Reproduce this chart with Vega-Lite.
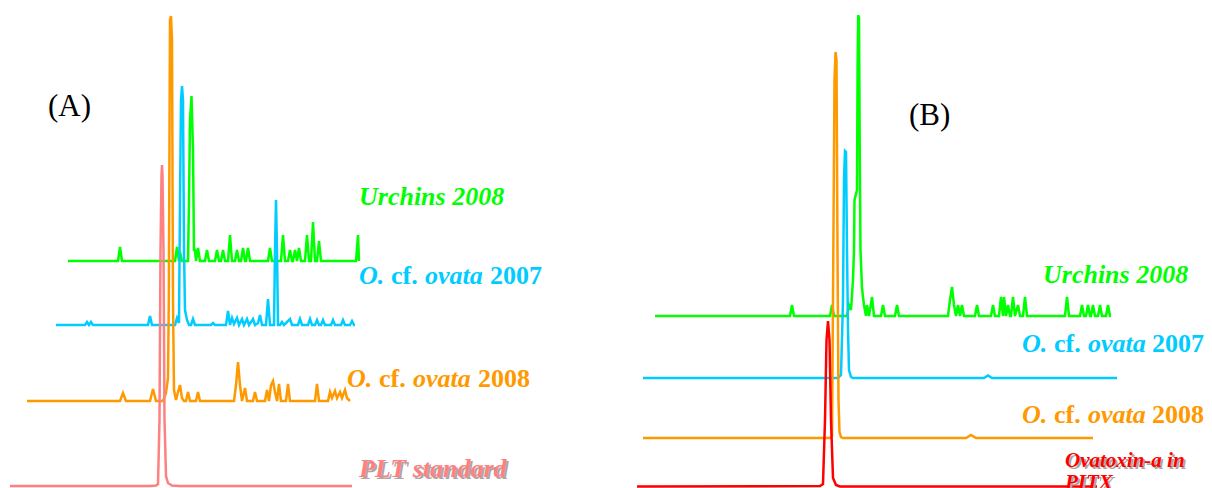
{
  "$schema": "https://vega.github.io/schema/vega-lite/v6.json",
  "padding": 0,
  "spacing": 0,
  "background": "white",
  "config": {"view": {"stroke": null}, "concat": {"spacing": 0}},
  "datasets": {
    "traceA": [
      {"sample":"Urchins 2008","rt":68,"sig":227},{"sample":"Urchins 2008","rt":118,"sig":227},{"sample":"Urchins 2008","rt":120,"sig":241},{"sample":"Urchins 2008","rt":122,"sig":227},{"sample":"Urchins 2008","rt":175,"sig":227},{"sample":"Urchins 2008","rt":177,"sig":241},{"sample":"Urchins 2008","rt":179,"sig":227},{"sample":"Urchins 2008","rt":180,"sig":236},{"sample":"Urchins 2008","rt":182,"sig":227},{"sample":"Urchins 2008","rt":188,"sig":227},{"sample":"Urchins 2008","rt":189,"sig":288},{"sample":"Urchins 2008","rt":190,"sig":368},{"sample":"Urchins 2008","rt":191.5,"sig":392},{"sample":"Urchins 2008","rt":193,"sig":338},{"sample":"Urchins 2008","rt":194,"sig":238},{"sample":"Urchins 2008","rt":195,"sig":238},{"sample":"Urchins 2008","rt":196,"sig":227},{"sample":"Urchins 2008","rt":198,"sig":240},{"sample":"Urchins 2008","rt":200,"sig":227},{"sample":"Urchins 2008","rt":205,"sig":227},{"sample":"Urchins 2008","rt":207,"sig":238},{"sample":"Urchins 2008","rt":209,"sig":227},{"sample":"Urchins 2008","rt":215,"sig":227},{"sample":"Urchins 2008","rt":217,"sig":238},{"sample":"Urchins 2008","rt":219,"sig":227},{"sample":"Urchins 2008","rt":221,"sig":227},{"sample":"Urchins 2008","rt":223,"sig":238},{"sample":"Urchins 2008","rt":225,"sig":227},{"sample":"Urchins 2008","rt":228,"sig":227},{"sample":"Urchins 2008","rt":230,"sig":253},{"sample":"Urchins 2008","rt":232,"sig":227},{"sample":"Urchins 2008","rt":235,"sig":227},{"sample":"Urchins 2008","rt":237,"sig":238},{"sample":"Urchins 2008","rt":239,"sig":227},{"sample":"Urchins 2008","rt":241,"sig":227},{"sample":"Urchins 2008","rt":243,"sig":240},{"sample":"Urchins 2008","rt":245,"sig":227},{"sample":"Urchins 2008","rt":246,"sig":227},{"sample":"Urchins 2008","rt":248,"sig":240},{"sample":"Urchins 2008","rt":250,"sig":227},{"sample":"Urchins 2008","rt":268,"sig":227},{"sample":"Urchins 2008","rt":270,"sig":240},{"sample":"Urchins 2008","rt":272,"sig":227},{"sample":"Urchins 2008","rt":281,"sig":227},{"sample":"Urchins 2008","rt":283,"sig":253},{"sample":"Urchins 2008","rt":285,"sig":227},{"sample":"Urchins 2008","rt":288,"sig":227},{"sample":"Urchins 2008","rt":290,"sig":238},{"sample":"Urchins 2008","rt":292,"sig":227},{"sample":"Urchins 2008","rt":293,"sig":227},{"sample":"Urchins 2008","rt":295,"sig":238},{"sample":"Urchins 2008","rt":297,"sig":227},{"sample":"Urchins 2008","rt":299,"sig":240},{"sample":"Urchins 2008","rt":301,"sig":227},{"sample":"Urchins 2008","rt":305,"sig":227},{"sample":"Urchins 2008","rt":307,"sig":253},{"sample":"Urchins 2008","rt":309,"sig":227},{"sample":"Urchins 2008","rt":311,"sig":227},{"sample":"Urchins 2008","rt":313,"sig":266},{"sample":"Urchins 2008","rt":315,"sig":227},{"sample":"Urchins 2008","rt":317,"sig":227},{"sample":"Urchins 2008","rt":319,"sig":247},{"sample":"Urchins 2008","rt":321,"sig":227},{"sample":"Urchins 2008","rt":356,"sig":227},{"sample":"Urchins 2008","rt":358,"sig":253},{"sample":"Urchins 2008","rt":359,"sig":227},

      {"sample":"O. cf. ovata 2007","rt":56,"sig":163},{"sample":"O. cf. ovata 2007","rt":85,"sig":163},{"sample":"O. cf. ovata 2007","rt":87,"sig":166},{"sample":"O. cf. ovata 2007","rt":89,"sig":163},{"sample":"O. cf. ovata 2007","rt":91,"sig":166},{"sample":"O. cf. ovata 2007","rt":93,"sig":163},{"sample":"O. cf. ovata 2007","rt":148,"sig":163},{"sample":"O. cf. ovata 2007","rt":150,"sig":172},{"sample":"O. cf. ovata 2007","rt":152,"sig":163},{"sample":"O. cf. ovata 2007","rt":175,"sig":163},{"sample":"O. cf. ovata 2007","rt":177,"sig":170},{"sample":"O. cf. ovata 2007","rt":179,"sig":165},{"sample":"O. cf. ovata 2007","rt":180,"sig":288},{"sample":"O. cf. ovata 2007","rt":181,"sig":388},{"sample":"O. cf. ovata 2007","rt":182,"sig":402},{"sample":"O. cf. ovata 2007","rt":183,"sig":388},{"sample":"O. cf. ovata 2007","rt":184,"sig":238},{"sample":"O. cf. ovata 2007","rt":185,"sig":178},{"sample":"O. cf. ovata 2007","rt":187,"sig":168},{"sample":"O. cf. ovata 2007","rt":189,"sig":163},{"sample":"O. cf. ovata 2007","rt":191,"sig":163},{"sample":"O. cf. ovata 2007","rt":193,"sig":169},{"sample":"O. cf. ovata 2007","rt":195,"sig":163},{"sample":"O. cf. ovata 2007","rt":211,"sig":163},{"sample":"O. cf. ovata 2007","rt":213,"sig":165},{"sample":"O. cf. ovata 2007","rt":215,"sig":163},{"sample":"O. cf. ovata 2007","rt":226,"sig":163},{"sample":"O. cf. ovata 2007","rt":228,"sig":177},{"sample":"O. cf. ovata 2007","rt":230,"sig":163},{"sample":"O. cf. ovata 2007","rt":232,"sig":170},{"sample":"O. cf. ovata 2007","rt":234,"sig":164},{"sample":"O. cf. ovata 2007","rt":237,"sig":170},{"sample":"O. cf. ovata 2007","rt":239,"sig":163},{"sample":"O. cf. ovata 2007","rt":242,"sig":169},{"sample":"O. cf. ovata 2007","rt":244,"sig":163},{"sample":"O. cf. ovata 2007","rt":247,"sig":169},{"sample":"O. cf. ovata 2007","rt":249,"sig":163},{"sample":"O. cf. ovata 2007","rt":253,"sig":169},{"sample":"O. cf. ovata 2007","rt":255,"sig":163},{"sample":"O. cf. ovata 2007","rt":258,"sig":165},{"sample":"O. cf. ovata 2007","rt":260,"sig":173},{"sample":"O. cf. ovata 2007","rt":262,"sig":163},{"sample":"O. cf. ovata 2007","rt":266,"sig":163},{"sample":"O. cf. ovata 2007","rt":268,"sig":189},{"sample":"O. cf. ovata 2007","rt":270,"sig":163},{"sample":"O. cf. ovata 2007","rt":274,"sig":163},{"sample":"O. cf. ovata 2007","rt":275,"sig":238},{"sample":"O. cf. ovata 2007","rt":276,"sig":288},{"sample":"O. cf. ovata 2007","rt":277,"sig":238},{"sample":"O. cf. ovata 2007","rt":278,"sig":163},{"sample":"O. cf. ovata 2007","rt":280,"sig":163},{"sample":"O. cf. ovata 2007","rt":282,"sig":166},{"sample":"O. cf. ovata 2007","rt":284,"sig":163},{"sample":"O. cf. ovata 2007","rt":290,"sig":169},{"sample":"O. cf. ovata 2007","rt":292,"sig":163},{"sample":"O. cf. ovata 2007","rt":298,"sig":163},{"sample":"O. cf. ovata 2007","rt":300,"sig":169},{"sample":"O. cf. ovata 2007","rt":302,"sig":163},{"sample":"O. cf. ovata 2007","rt":308,"sig":163},{"sample":"O. cf. ovata 2007","rt":310,"sig":169},{"sample":"O. cf. ovata 2007","rt":312,"sig":163},{"sample":"O. cf. ovata 2007","rt":315,"sig":163},{"sample":"O. cf. ovata 2007","rt":317,"sig":168},{"sample":"O. cf. ovata 2007","rt":319,"sig":163},{"sample":"O. cf. ovata 2007","rt":321,"sig":163},{"sample":"O. cf. ovata 2007","rt":323,"sig":168},{"sample":"O. cf. ovata 2007","rt":325,"sig":163},{"sample":"O. cf. ovata 2007","rt":331,"sig":163},{"sample":"O. cf. ovata 2007","rt":333,"sig":168},{"sample":"O. cf. ovata 2007","rt":335,"sig":163},{"sample":"O. cf. ovata 2007","rt":341,"sig":163},{"sample":"O. cf. ovata 2007","rt":343,"sig":168},{"sample":"O. cf. ovata 2007","rt":345,"sig":163},{"sample":"O. cf. ovata 2007","rt":350,"sig":163},{"sample":"O. cf. ovata 2007","rt":352,"sig":167},{"sample":"O. cf. ovata 2007","rt":354,"sig":163},{"sample":"O. cf. ovata 2007","rt":355,"sig":163},

      {"sample":"O. cf. ovata 2008","rt":27,"sig":87},{"sample":"O. cf. ovata 2008","rt":120,"sig":87},{"sample":"O. cf. ovata 2008","rt":123,"sig":95},{"sample":"O. cf. ovata 2008","rt":126,"sig":87},{"sample":"O. cf. ovata 2008","rt":150,"sig":87},{"sample":"O. cf. ovata 2008","rt":153,"sig":99},{"sample":"O. cf. ovata 2008","rt":156,"sig":87},{"sample":"O. cf. ovata 2008","rt":163,"sig":87},{"sample":"O. cf. ovata 2008","rt":166,"sig":95},{"sample":"O. cf. ovata 2008","rt":168,"sig":110},{"sample":"O. cf. ovata 2008","rt":168.8,"sig":188},{"sample":"O. cf. ovata 2008","rt":170,"sig":468},{"sample":"O. cf. ovata 2008","rt":171,"sig":472},{"sample":"O. cf. ovata 2008","rt":172,"sig":448},{"sample":"O. cf. ovata 2008","rt":173,"sig":188},{"sample":"O. cf. ovata 2008","rt":174,"sig":98},{"sample":"O. cf. ovata 2008","rt":176,"sig":88},{"sample":"O. cf. ovata 2008","rt":178,"sig":96},{"sample":"O. cf. ovata 2008","rt":180,"sig":103},{"sample":"O. cf. ovata 2008","rt":182,"sig":90},{"sample":"O. cf. ovata 2008","rt":184,"sig":87},{"sample":"O. cf. ovata 2008","rt":186,"sig":87},{"sample":"O. cf. ovata 2008","rt":188,"sig":96},{"sample":"O. cf. ovata 2008","rt":190,"sig":87},{"sample":"O. cf. ovata 2008","rt":196,"sig":87},{"sample":"O. cf. ovata 2008","rt":198,"sig":96},{"sample":"O. cf. ovata 2008","rt":200,"sig":87},{"sample":"O. cf. ovata 2008","rt":234,"sig":87},{"sample":"O. cf. ovata 2008","rt":236,"sig":103},{"sample":"O. cf. ovata 2008","rt":238,"sig":126},{"sample":"O. cf. ovata 2008","rt":240,"sig":103},{"sample":"O. cf. ovata 2008","rt":242,"sig":87},{"sample":"O. cf. ovata 2008","rt":245,"sig":100},{"sample":"O. cf. ovata 2008","rt":247,"sig":87},{"sample":"O. cf. ovata 2008","rt":253,"sig":87},{"sample":"O. cf. ovata 2008","rt":255,"sig":96},{"sample":"O. cf. ovata 2008","rt":257,"sig":87},{"sample":"O. cf. ovata 2008","rt":265,"sig":87},{"sample":"O. cf. ovata 2008","rt":267,"sig":98},{"sample":"O. cf. ovata 2008","rt":269,"sig":87},{"sample":"O. cf. ovata 2008","rt":271,"sig":103},{"sample":"O. cf. ovata 2008","rt":273,"sig":107},{"sample":"O. cf. ovata 2008","rt":275,"sig":96},{"sample":"O. cf. ovata 2008","rt":277,"sig":87},{"sample":"O. cf. ovata 2008","rt":279,"sig":104},{"sample":"O. cf. ovata 2008","rt":281,"sig":87},{"sample":"O. cf. ovata 2008","rt":286,"sig":87},{"sample":"O. cf. ovata 2008","rt":288,"sig":104},{"sample":"O. cf. ovata 2008","rt":290,"sig":87},{"sample":"O. cf. ovata 2008","rt":315,"sig":87},{"sample":"O. cf. ovata 2008","rt":317,"sig":104},{"sample":"O. cf. ovata 2008","rt":319,"sig":87},{"sample":"O. cf. ovata 2008","rt":328,"sig":87},{"sample":"O. cf. ovata 2008","rt":330,"sig":96},{"sample":"O. cf. ovata 2008","rt":332,"sig":90},{"sample":"O. cf. ovata 2008","rt":335,"sig":97},{"sample":"O. cf. ovata 2008","rt":337,"sig":90},{"sample":"O. cf. ovata 2008","rt":340,"sig":96},{"sample":"O. cf. ovata 2008","rt":342,"sig":90},{"sample":"O. cf. ovata 2008","rt":345,"sig":98},{"sample":"O. cf. ovata 2008","rt":347,"sig":90},{"sample":"O. cf. ovata 2008","rt":350,"sig":87},

      {"sample":"PLT standard","rt":10,"sig":2},{"sample":"PLT standard","rt":150,"sig":2},{"sample":"PLT standard","rt":156,"sig":2.5},{"sample":"PLT standard","rt":158,"sig":4},{"sample":"PLT standard","rt":159.5,"sig":68},{"sample":"PLT standard","rt":160.5,"sig":238},{"sample":"PLT standard","rt":161.5,"sig":313},{"sample":"PLT standard","rt":162,"sig":323},{"sample":"PLT standard","rt":162.5,"sig":313},{"sample":"PLT standard","rt":163.5,"sig":238},{"sample":"PLT standard","rt":164.5,"sig":68},{"sample":"PLT standard","rt":166,"sig":12},{"sample":"PLT standard","rt":168,"sig":5},{"sample":"PLT standard","rt":172,"sig":2.5},{"sample":"PLT standard","rt":180,"sig":2},{"sample":"PLT standard","rt":352,"sig":2}
    ],
    "traceB": [
      {"sample":"Urchins 2008","rt":49,"sig":172},{"sample":"Urchins 2008","rt":184,"sig":172},{"sample":"Urchins 2008","rt":186,"sig":183},{"sample":"Urchins 2008","rt":188,"sig":172},{"sample":"Urchins 2008","rt":224,"sig":172},{"sample":"Urchins 2008","rt":226,"sig":183},{"sample":"Urchins 2008","rt":228,"sig":172},{"sample":"Urchins 2008","rt":241,"sig":172},{"sample":"Urchins 2008","rt":243,"sig":183},{"sample":"Urchins 2008","rt":245,"sig":178},{"sample":"Urchins 2008","rt":247,"sig":208},{"sample":"Urchins 2008","rt":248,"sig":238},{"sample":"Urchins 2008","rt":248.5,"sig":288},{"sample":"Urchins 2008","rt":251,"sig":298},{"sample":"Urchins 2008","rt":251.6,"sig":420},{"sample":"Urchins 2008","rt":252.2,"sig":473},{"sample":"Urchins 2008","rt":253,"sig":470},{"sample":"Urchins 2008","rt":253.8,"sig":330},{"sample":"Urchins 2008","rt":254.5,"sig":238},{"sample":"Urchins 2008","rt":256,"sig":200},{"sample":"Urchins 2008","rt":257,"sig":191},{"sample":"Urchins 2008","rt":258,"sig":183},{"sample":"Urchins 2008","rt":260,"sig":172},{"sample":"Urchins 2008","rt":261,"sig":183},{"sample":"Urchins 2008","rt":263,"sig":172},{"sample":"Urchins 2008","rt":264,"sig":178},{"sample":"Urchins 2008","rt":266,"sig":191},{"sample":"Urchins 2008","rt":268,"sig":172},{"sample":"Urchins 2008","rt":275,"sig":172},{"sample":"Urchins 2008","rt":277,"sig":183},{"sample":"Urchins 2008","rt":279,"sig":172},{"sample":"Urchins 2008","rt":289,"sig":172},{"sample":"Urchins 2008","rt":291,"sig":183},{"sample":"Urchins 2008","rt":293,"sig":172},{"sample":"Urchins 2008","rt":342,"sig":172},{"sample":"Urchins 2008","rt":344,"sig":188},{"sample":"Urchins 2008","rt":346,"sig":201},{"sample":"Urchins 2008","rt":348,"sig":183},{"sample":"Urchins 2008","rt":350,"sig":172},{"sample":"Urchins 2008","rt":352,"sig":183},{"sample":"Urchins 2008","rt":354,"sig":172},{"sample":"Urchins 2008","rt":356,"sig":183},{"sample":"Urchins 2008","rt":358,"sig":172},{"sample":"Urchins 2008","rt":369,"sig":172},{"sample":"Urchins 2008","rt":371,"sig":183},{"sample":"Urchins 2008","rt":373,"sig":172},{"sample":"Urchins 2008","rt":385,"sig":172},{"sample":"Urchins 2008","rt":387,"sig":183},{"sample":"Urchins 2008","rt":389,"sig":172},{"sample":"Urchins 2008","rt":393,"sig":172},{"sample":"Urchins 2008","rt":395,"sig":191},{"sample":"Urchins 2008","rt":397,"sig":172},{"sample":"Urchins 2008","rt":398,"sig":191},{"sample":"Urchins 2008","rt":400,"sig":172},{"sample":"Urchins 2008","rt":402,"sig":183},{"sample":"Urchins 2008","rt":404,"sig":172},{"sample":"Urchins 2008","rt":405,"sig":172},{"sample":"Urchins 2008","rt":407,"sig":191},{"sample":"Urchins 2008","rt":409,"sig":172},{"sample":"Urchins 2008","rt":412,"sig":183},{"sample":"Urchins 2008","rt":414,"sig":172},{"sample":"Urchins 2008","rt":417,"sig":172},{"sample":"Urchins 2008","rt":419,"sig":191},{"sample":"Urchins 2008","rt":421,"sig":172},{"sample":"Urchins 2008","rt":459,"sig":172},{"sample":"Urchins 2008","rt":461,"sig":191},{"sample":"Urchins 2008","rt":463,"sig":172},{"sample":"Urchins 2008","rt":474,"sig":172},{"sample":"Urchins 2008","rt":476,"sig":183},{"sample":"Urchins 2008","rt":478,"sig":172},{"sample":"Urchins 2008","rt":480,"sig":172},{"sample":"Urchins 2008","rt":482,"sig":183},{"sample":"Urchins 2008","rt":484,"sig":172},{"sample":"Urchins 2008","rt":485,"sig":172},{"sample":"Urchins 2008","rt":487,"sig":183},{"sample":"Urchins 2008","rt":489,"sig":172},{"sample":"Urchins 2008","rt":492,"sig":172},{"sample":"Urchins 2008","rt":494,"sig":183},{"sample":"Urchins 2008","rt":496,"sig":172},{"sample":"Urchins 2008","rt":500,"sig":172},{"sample":"Urchins 2008","rt":502,"sig":183},{"sample":"Urchins 2008","rt":504,"sig":172},{"sample":"Urchins 2008","rt":505,"sig":172},

      {"sample":"O. cf. ovata 2007","rt":37,"sig":110},{"sample":"O. cf. ovata 2007","rt":232,"sig":110},{"sample":"O. cf. ovata 2007","rt":235,"sig":113},{"sample":"O. cf. ovata 2007","rt":237,"sig":188},{"sample":"O. cf. ovata 2007","rt":238,"sig":308},{"sample":"O. cf. ovata 2007","rt":239,"sig":337},{"sample":"O. cf. ovata 2007","rt":240,"sig":336},{"sample":"O. cf. ovata 2007","rt":241,"sig":238},{"sample":"O. cf. ovata 2007","rt":242,"sig":158},{"sample":"O. cf. ovata 2007","rt":243,"sig":118},{"sample":"O. cf. ovata 2007","rt":245,"sig":111},{"sample":"O. cf. ovata 2007","rt":247,"sig":110},{"sample":"O. cf. ovata 2007","rt":378,"sig":110},{"sample":"O. cf. ovata 2007","rt":382,"sig":112.5},{"sample":"O. cf. ovata 2007","rt":386,"sig":110},{"sample":"O. cf. ovata 2007","rt":511,"sig":110},

      {"sample":"O. cf. ovata 2008","rt":37,"sig":50},{"sample":"O. cf. ovata 2008","rt":224,"sig":50},{"sample":"O. cf. ovata 2008","rt":226,"sig":52},{"sample":"O. cf. ovata 2008","rt":227,"sig":188},{"sample":"O. cf. ovata 2008","rt":228.5,"sig":408},{"sample":"O. cf. ovata 2008","rt":229.5,"sig":436},{"sample":"O. cf. ovata 2008","rt":230.5,"sig":428},{"sample":"O. cf. ovata 2008","rt":231.5,"sig":238},{"sample":"O. cf. ovata 2008","rt":232.5,"sig":88},{"sample":"O. cf. ovata 2008","rt":233.5,"sig":56},{"sample":"O. cf. ovata 2008","rt":235,"sig":51},{"sample":"O. cf. ovata 2008","rt":237,"sig":50},{"sample":"O. cf. ovata 2008","rt":360,"sig":50},{"sample":"O. cf. ovata 2008","rt":365,"sig":53},{"sample":"O. cf. ovata 2008","rt":370,"sig":50},{"sample":"O. cf. ovata 2008","rt":487,"sig":50},

      {"sample":"Ovatoxin-a in PITX","rt":31,"sig":1.5},{"sample":"Ovatoxin-a in PITX","rt":214,"sig":2},{"sample":"Ovatoxin-a in PITX","rt":217,"sig":4},{"sample":"Ovatoxin-a in PITX","rt":219,"sig":68},{"sample":"Ovatoxin-a in PITX","rt":220.5,"sig":148},{"sample":"Ovatoxin-a in PITX","rt":222,"sig":167},{"sample":"Ovatoxin-a in PITX","rt":223.5,"sig":148},{"sample":"Ovatoxin-a in PITX","rt":225,"sig":68},{"sample":"Ovatoxin-a in PITX","rt":227,"sig":10},{"sample":"Ovatoxin-a in PITX","rt":230,"sig":3},{"sample":"Ovatoxin-a in PITX","rt":234,"sig":1.5},{"sample":"Ovatoxin-a in PITX","rt":491,"sig":1.5}
    ],
    "italA": [
      {"sample":"Urchins 2008","txt":"Urchins 2008","rt":359,"sig":283},
      {"sample":"O. cf. ovata 2007","txt":"O.","rt":359,"sig":204},
      {"sample":"O. cf. ovata 2007","txt":"ovata","rt":425,"sig":204},
      {"sample":"O. cf. ovata 2008","txt":"O.","rt":347,"sig":101},
      {"sample":"O. cf. ovata 2008","txt":"ovata","rt":413,"sig":101},
      {"sample":"PLT standard","txt":"PLT standard","rt":359,"sig":11}
    ],
    "boldA": [
      {"sample":"O. cf. ovata 2007","txt":"cf.","rt":391,"sig":204},
      {"sample":"O. cf. ovata 2007","txt":"2007","rt":490,"sig":204},
      {"sample":"O. cf. ovata 2008","txt":"cf.","rt":379,"sig":101},
      {"sample":"O. cf. ovata 2008","txt":"2008","rt":478,"sig":101}
    ],
    "shadowA": [
      {"txt":"PLT standard","rt":359,"sig":11}
    ],
    "tagA": [{"txt":"(A)","rt":48,"sig":372}],
    "italB": [
      {"sample":"Urchins 2008","txt":"Urchins 2008","rt":437,"sig":205},
      {"sample":"O. cf. ovata 2007","txt":"O.","rt":416,"sig":136},
      {"sample":"O. cf. ovata 2007","txt":"ovata","rt":482,"sig":136},
      {"sample":"O. cf. ovata 2008","txt":"O.","rt":416,"sig":65},
      {"sample":"O. cf. ovata 2008","txt":"ovata","rt":482,"sig":65}
    ],
    "boldB": [
      {"sample":"O. cf. ovata 2007","txt":"cf.","rt":448,"sig":136},
      {"sample":"O. cf. ovata 2007","txt":"2007","rt":546,"sig":136},
      {"sample":"O. cf. ovata 2008","txt":"cf.","rt":448,"sig":65},
      {"sample":"O. cf. ovata 2008","txt":"2008","rt":546,"sig":65}
    ],
    "smallB": [
      {"sample":"Ovatoxin-a in PITX","txt":"Ovatoxin-a in","rt":459,"sig":21},
      {"sample":"Ovatoxin-a in PITX","txt":"PITX","rt":459,"sig":-1}
    ],
    "tagB": [{"txt":"(B)","rt":303,"sig":363}]
  },
  "hconcat": [
    {
      "width": 606,
      "height": 488,
      "layer": [
        {
          "data": {"name": "traceA"},
          "mark": {"type": "line", "strokeWidth": 2.5, "clip": true},
          "encoding": {
            "x": {"field": "rt", "type": "quantitative", "scale": {"domain": [0, 606], "nice": false, "zero": false}, "axis": null},
            "y": {"field": "sig", "type": "quantitative", "scale": {"domain": [0, 488], "nice": false, "zero": false}, "axis": null},
            "color": {"field": "sample", "type": "nominal", "legend": null,
              "scale": {"domain": ["Urchins 2008", "O. cf. ovata 2007", "O. cf. ovata 2008", "PLT standard", "Ovatoxin-a in PITX"],
                        "range": ["#00ff00", "#00ccff", "#ff9900", "#ff8080", "#ff0000"]}}
          }
        },
        {
          "data": {"name": "shadowA"},
          "mark": {"type": "text", "font": "Liberation Serif", "fontSize": 26, "fontWeight": "bold", "fontStyle": "italic", "align": "left", "baseline": "alphabetic", "dx": 2, "dy": 2, "color": "#a8a8a8", "clip": true},
          "encoding": {"x": {"field": "rt", "type": "quantitative"}, "y": {"field": "sig", "type": "quantitative"}, "text": {"field": "txt"}}
        },
        {
          "data": {"name": "italA"},
          "mark": {"type": "text", "font": "Liberation Serif", "fontSize": 26, "fontWeight": "bold", "fontStyle": "italic", "align": "left", "baseline": "alphabetic", "clip": true},
          "encoding": {"x": {"field": "rt", "type": "quantitative"}, "y": {"field": "sig", "type": "quantitative"}, "text": {"field": "txt"}, "color": {"field": "sample", "type": "nominal", "legend": null}}
        },
        {
          "data": {"name": "boldA"},
          "mark": {"type": "text", "font": "Liberation Serif", "fontSize": 26, "fontWeight": "bold", "align": "left", "baseline": "alphabetic", "clip": true},
          "encoding": {"x": {"field": "rt", "type": "quantitative"}, "y": {"field": "sig", "type": "quantitative"}, "text": {"field": "txt"}, "color": {"field": "sample", "type": "nominal", "legend": null}}
        },
        {
          "data": {"name": "tagA"},
          "mark": {"type": "text", "font": "Liberation Serif", "fontSize": 31, "align": "left", "baseline": "alphabetic", "color": "#000000", "clip": true},
          "encoding": {"x": {"field": "rt", "type": "quantitative"}, "y": {"field": "sig", "type": "quantitative"}, "text": {"field": "txt"}}
        }
      ]
    },
    {
      "width": 606,
      "height": 488,
      "layer": [
        {
          "data": {"name": "traceB"},
          "mark": {"type": "line", "strokeWidth": 2.5, "clip": true},
          "encoding": {
            "x": {"field": "rt", "type": "quantitative", "scale": {"domain": [0, 606], "nice": false, "zero": false}, "axis": null},
            "y": {"field": "sig", "type": "quantitative", "scale": {"domain": [0, 488], "nice": false, "zero": false}, "axis": null},
            "color": {"field": "sample", "type": "nominal", "legend": null}
          }
        },
        {
          "data": {"name": "smallB"},
          "mark": {"type": "text", "font": "Liberation Serif", "fontSize": 21, "fontWeight": "bold", "fontStyle": "italic", "align": "left", "baseline": "alphabetic", "dx": 2, "dy": 2, "color": "#a8a8a8", "clip": true},
          "encoding": {"x": {"field": "rt", "type": "quantitative"}, "y": {"field": "sig", "type": "quantitative"}, "text": {"field": "txt"}}
        },
        {
          "data": {"name": "smallB"},
          "mark": {"type": "text", "font": "Liberation Serif", "fontSize": 21, "fontWeight": "bold", "fontStyle": "italic", "align": "left", "baseline": "alphabetic", "clip": true},
          "encoding": {"x": {"field": "rt", "type": "quantitative"}, "y": {"field": "sig", "type": "quantitative"}, "text": {"field": "txt"}, "color": {"field": "sample", "type": "nominal", "legend": null}}
        },
        {
          "data": {"name": "italB"},
          "mark": {"type": "text", "font": "Liberation Serif", "fontSize": 26, "fontWeight": "bold", "fontStyle": "italic", "align": "left", "baseline": "alphabetic", "clip": true},
          "encoding": {"x": {"field": "rt", "type": "quantitative"}, "y": {"field": "sig", "type": "quantitative"}, "text": {"field": "txt"}, "color": {"field": "sample", "type": "nominal", "legend": null}}
        },
        {
          "data": {"name": "boldB"},
          "mark": {"type": "text", "font": "Liberation Serif", "fontSize": 26, "fontWeight": "bold", "align": "left", "baseline": "alphabetic", "clip": true},
          "encoding": {"x": {"field": "rt", "type": "quantitative"}, "y": {"field": "sig", "type": "quantitative"}, "text": {"field": "txt"}, "color": {"field": "sample", "type": "nominal", "legend": null}}
        },
        {
          "data": {"name": "tagB"},
          "mark": {"type": "text", "font": "Liberation Serif", "fontSize": 31, "align": "left", "baseline": "alphabetic", "color": "#000000", "clip": true},
          "encoding": {"x": {"field": "rt", "type": "quantitative"}, "y": {"field": "sig", "type": "quantitative"}, "text": {"field": "txt"}}
        }
      ]
    }
  ]
}
